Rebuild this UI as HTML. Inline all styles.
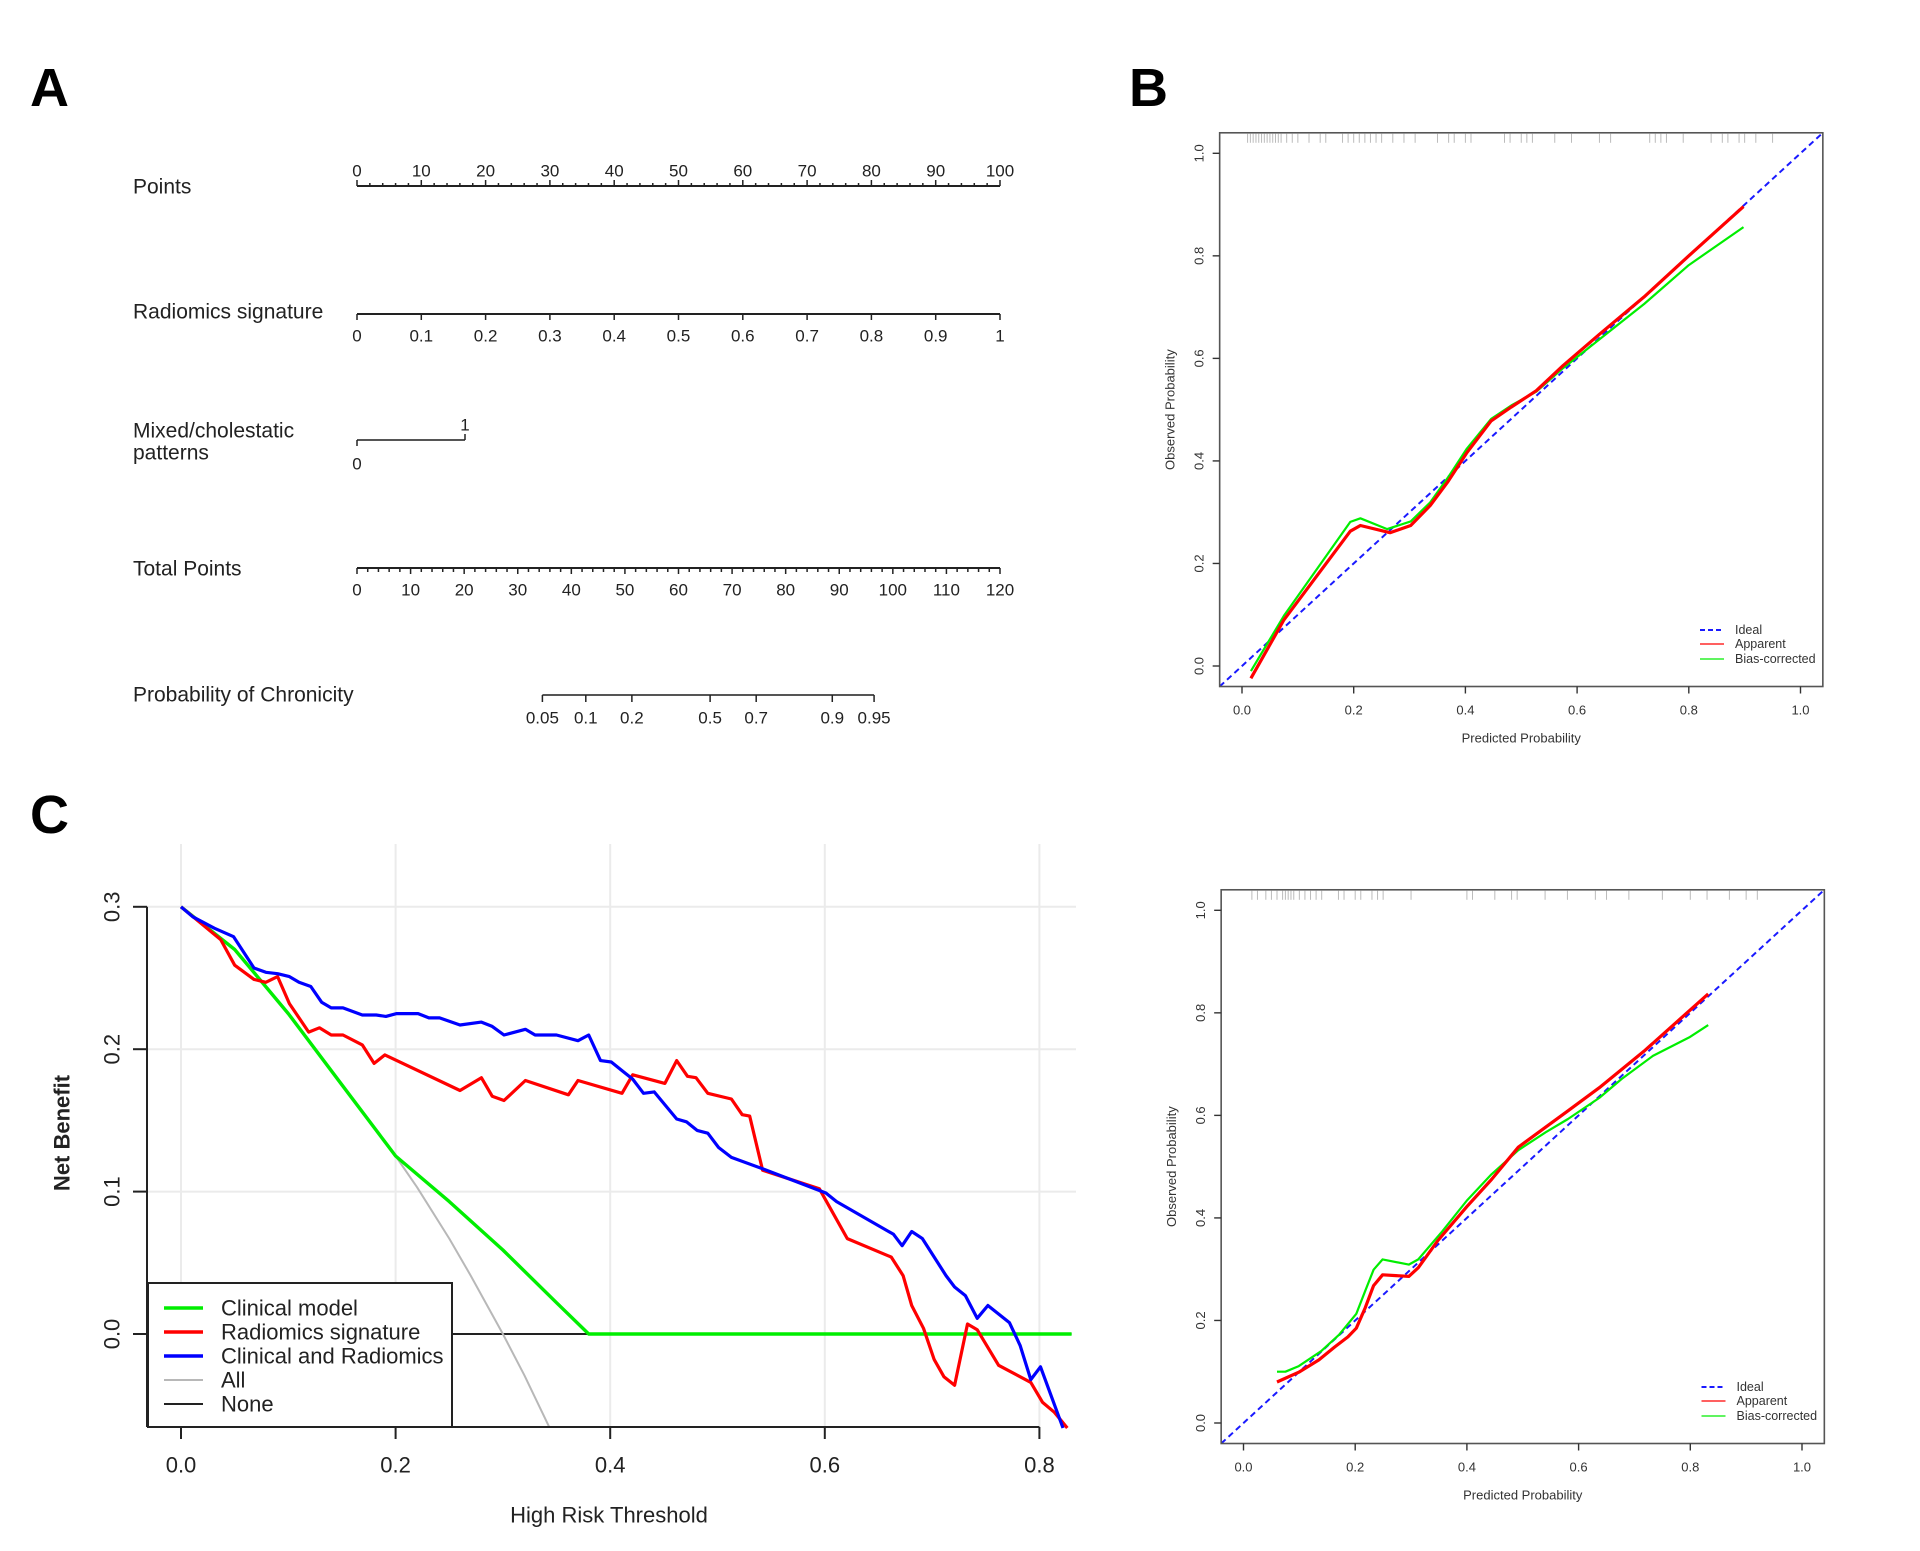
<!DOCTYPE html>
<html><head><meta charset="utf-8">
<style>
html,body{margin:0;padding:0;background:#fff;}
svg{display:block;font-family:"Liberation Sans",sans-serif;}
</style></head>
<body>
<svg id="fig" width="1920" height="1551" viewBox="0 0 1920 1551">
<rect x="0" y="0" width="1920" height="1551" fill="#fff"/>
<text x="30" y="106" font-size="54" font-weight="bold">A</text>
<text x="1129" y="106" font-size="54" font-weight="bold">B</text>
<text x="30" y="833" font-size="54" font-weight="bold">C</text>
<g id="nomo"></g>
<g id="cal1"></g>
<g id="cal2"></g>
<g id="dca"></g>
</svg>
<script>
// ---------- Nomogram data ----------
const pointsTicks = [0,10,20,30,40,50,60,70,80,90,100];
const radiomicsTicks = [0,0.1,0.2,0.3,0.4,0.5,0.6,0.7,0.8,0.9,1];
const totalTicks = [0,10,20,30,40,50,60,70,80,90,100,110,120];
const probLabels = ["0.05","0.1","0.2","0.5","0.7","0.9","0.95"];
const probTotalPoints = [34.6,42.7,51.3,65.9,74.5,88.7,96.5];

// ---------- Calibration (top) ----------
const cal1PredApparent = [0.016,0.075,0.194,0.212,0.265,0.302,0.337,0.369,0.402,0.446,0.482,0.527,0.575,0.64,0.72,0.8,0.898];
const cal1ObsApparent  = [-0.024,0.09,0.263,0.274,0.26,0.274,0.313,0.36,0.415,0.478,0.505,0.537,0.586,0.647,0.72,0.8,0.896];
const cal1PredBias = [0.016,0.075,0.194,0.212,0.26,0.302,0.337,0.369,0.402,0.446,0.482,0.527,0.575,0.64,0.72,0.8,0.898];
const cal1ObsBias  = [-0.01,0.098,0.281,0.288,0.267,0.282,0.319,0.368,0.423,0.482,0.508,0.535,0.581,0.637,0.706,0.782,0.856];
const cal1Rug = [0.01,0.015,0.02,0.025,0.03,0.035,0.04,0.045,0.05,0.055,0.06,0.065,0.07,0.08,0.09,0.1,0.12,0.14,0.15,0.18,0.19,0.2,0.21,0.22,0.23,0.24,0.25,0.27,0.29,0.31,0.35,0.37,0.38,0.4,0.41,0.47,0.48,0.5,0.51,0.52,0.56,0.59,0.64,0.66,0.73,0.74,0.75,0.76,0.79,0.84,0.86,0.87,0.89,0.9,0.92,0.95];

// ---------- Calibration (bottom) ----------
const cal2PredApparent = [0.06,0.099,0.135,0.163,0.187,0.202,0.218,0.233,0.249,0.296,0.313,0.348,0.4,0.444,0.492,0.541,0.581,0.637,0.717,0.832];
const cal2ObsApparent  = [0.08,0.099,0.123,0.148,0.168,0.185,0.225,0.268,0.289,0.286,0.303,0.356,0.422,0.475,0.538,0.577,0.609,0.654,0.725,0.837];
const cal2PredBias = [0.06,0.075,0.099,0.139,0.171,0.202,0.218,0.233,0.249,0.296,0.313,0.356,0.4,0.444,0.492,0.541,0.581,0.637,0.677,0.733,0.798,0.832];
const cal2ObsBias  = [0.1,0.1,0.111,0.14,0.172,0.213,0.258,0.299,0.319,0.309,0.319,0.374,0.434,0.485,0.532,0.567,0.593,0.634,0.671,0.716,0.752,0.776];
const cal2Rug = [0.015,0.025,0.04,0.05,0.06,0.07,0.075,0.08,0.085,0.09,0.1,0.11,0.12,0.13,0.14,0.17,0.18,0.2,0.21,0.23,0.24,0.25,0.3,0.4,0.41,0.45,0.48,0.49,0.54,0.58,0.63,0.65,0.69,0.75,0.8,0.83,0.87,0.9,0.92];

const calTicks = [0,0.2,0.4,0.6,0.8,1.0];
const calTickLabels = ["0.0","0.2","0.4","0.6","0.8","1.0"];

// ---------- Decision curve ----------
const dcaThrClinical = [0,0.05,0.1,0.15,0.2,0.25,0.3,0.35,0.38,0.83];
const dcaNBClinical  = [0.3,0.27,0.225,0.175,0.125,0.093,0.059,0.022,0,0];
const dcaThrAll = [0,0.05,0.1,0.15,0.2,0.22,0.25,0.27,0.3,0.32,0.343];
const dcaNBAll  = [0.3,0.27,0.225,0.175,0.125,0.103,0.067,0.041,0,-0.029,-0.065];
const dcaThrNone = [0,0.83];
const dcaNBNone  = [0,0];
const dcaThrRad = [0,0.037,0.05,0.068,0.079,0.09,0.101,0.119,0.129,0.14,0.151,0.169,0.18,0.19,0.26,0.28,0.29,0.301,0.321,0.361,0.37,0.411,0.421,0.451,0.462,0.472,0.48,0.491,0.513,0.523,0.53,0.542,0.595,0.621,0.662,0.673,0.681,0.692,0.702,0.711,0.721,0.733,0.742,0.762,0.792,0.803,0.814,0.826];
const dcaNBRad  = [0.3,0.277,0.259,0.249,0.247,0.251,0.232,0.212,0.215,0.21,0.21,0.203,0.19,0.196,0.171,0.18,0.167,0.164,0.178,0.168,0.178,0.169,0.182,0.176,0.192,0.181,0.18,0.169,0.165,0.154,0.153,0.115,0.102,0.067,0.054,0.041,0.02,0.004,-0.018,-0.03,-0.036,0.007,0.003,-0.022,-0.034,-0.048,-0.055,-0.066];
const dcaThrComb = [0,0.011,0.031,0.049,0.068,0.079,0.09,0.101,0.11,0.121,0.131,0.14,0.151,0.169,0.182,0.191,0.201,0.221,0.231,0.241,0.26,0.28,0.29,0.301,0.321,0.33,0.35,0.37,0.38,0.391,0.401,0.411,0.421,0.431,0.441,0.462,0.471,0.481,0.491,0.501,0.513,0.542,0.601,0.611,0.664,0.672,0.681,0.691,0.713,0.721,0.731,0.742,0.752,0.772,0.782,0.792,0.801,0.822];
const dcaNBComb  = [0.3,0.293,0.285,0.279,0.257,0.254,0.253,0.251,0.247,0.244,0.233,0.229,0.229,0.224,0.224,0.223,0.225,0.225,0.222,0.222,0.217,0.219,0.216,0.21,0.214,0.21,0.21,0.206,0.21,0.192,0.191,0.185,0.179,0.169,0.17,0.151,0.149,0.143,0.141,0.131,0.124,0.116,0.099,0.093,0.07,0.062,0.072,0.067,0.041,0.033,0.027,0.011,0.02,0.008,-0.008,-0.032,-0.023,-0.066];
const dcaXTicks = [0,0.2,0.4,0.6,0.8];
const dcaXTickLabels = ["0.0","0.2","0.4","0.6","0.8"];
const dcaYTicks = [0,0.1,0.2,0.3];
const dcaYTickLabels = ["0.0","0.1","0.2","0.3"];
const dcaLegendLabels = ["Clinical model","Radiomics signature","Clinical and Radiomics","All","None"];

const NS = "http://www.w3.org/2000/svg";
function mk(parent, tag, attrs, text){
  const e = document.createElementNS(NS, tag);
  for (const k in attrs) e.setAttribute(k, attrs[k]);
  if (text !== undefined) e.textContent = text;
  parent.appendChild(e);
  return e;
}
function fmt(v){ return String(v); }

// ================= Nomogram =================
(function(){
  const g = document.getElementById('nomo');
  const x0 = 357, x1 = 1000;
  const px = p => x0 + (x1 - x0) * p / 100;
  const labFont = 21, tickFont = 17;
  const labelX = 133;
  function rowLabel(y, lines, name){
    lines.forEach((t,i)=>{
      const el = mk(g,'text',{x:labelX,y:y+i*22,'font-size':labFont,'dominant-baseline':'central',fill:'#222'},t);
      
      
    });
  }
  rowLabel(187, ["Points"], 'points-label');
  let ax = mk(g,'line',{x1:px(0),y1:186,x2:px(100),y2:186,stroke:'#222','stroke-width':2});
  
  
  for (let v=0; v<=100; v+=2){
    const major = v%10===0;
    mk(g,'line',{x1:px(v),y1:186,x2:px(v),y2:major?180:183,stroke:'#222','stroke-width':1.5});
  }
  pointsTicks.forEach(v=>{
    const t = mk(g,'text',{x:px(v),y:171,'font-size':tickFont,'text-anchor':'middle','dominant-baseline':'central',fill:'#222'},fmt(v));
    
    
  });
  rowLabel(312, ["Radiomics signature"], 'radiomics-signature-label');
  ax = mk(g,'line',{x1:px(0),y1:314,x2:px(100),y2:314,stroke:'#222','stroke-width':2});
  
  
  radiomicsTicks.forEach(v=>{
    mk(g,'line',{x1:px(v*100),y1:314,x2:px(v*100),y2:320,stroke:'#222','stroke-width':1.5});
    const t = mk(g,'text',{x:px(v*100),y:336,'font-size':tickFont,'text-anchor':'middle','dominant-baseline':'central',fill:'#222'},fmt(v));
    
    
  });
  rowLabel(431, ["Mixed/cholestatic","patterns"], 'mixed-cholestatic-label');
  const mx1 = 465;
  ax = mk(g,'line',{x1:px(0),y1:440,x2:mx1,y2:440,stroke:'#555','stroke-width':2});
  
  
  mk(g,'line',{x1:px(0),y1:440,x2:px(0),y2:446,stroke:'#222','stroke-width':1.5});
  mk(g,'line',{x1:mx1,y1:440,x2:mx1,y2:434,stroke:'#222','stroke-width':1.5});
  let t = mk(g,'text',{x:mx1,y:425,'font-size':tickFont,'text-anchor':'middle','dominant-baseline':'central',fill:'#222'},"1");
   
  t = mk(g,'text',{x:px(0),y:464,'font-size':tickFont,'text-anchor':'middle','dominant-baseline':'central',fill:'#222'},"0");
   
  rowLabel(569, ["Total Points"], 'total-points-label');
  const tx = v => x0 + (x1-x0)*v/120;
  ax = mk(g,'line',{x1:tx(0),y1:568,x2:tx(120),y2:568,stroke:'#222','stroke-width':2});
  
  
  for (let v=0; v<=120; v+=2){
    const major = v%10===0;
    mk(g,'line',{x1:tx(v),y1:568,x2:tx(v),y2:major?574:572,stroke:'#222','stroke-width':1.5});
  }
  totalTicks.forEach(v=>{
    const t = mk(g,'text',{x:tx(v),y:590,'font-size':tickFont,'text-anchor':'middle','dominant-baseline':'central',fill:'#222'},fmt(v));
    
    
  });
  rowLabel(695, ["Probability of Chronicity"], 'probability-label');
  ax = mk(g,'line',{x1:tx(probTotalPoints[0]),y1:695,x2:tx(probTotalPoints[probTotalPoints.length-1]),y2:695,stroke:'#555','stroke-width':2});
  
  
  probTotalPoints.forEach((v,i)=>{
    mk(g,'line',{x1:tx(v),y1:695,x2:tx(v),y2:702,stroke:'#222','stroke-width':1.5});
    const t = mk(g,'text',{x:tx(v),y:718,'font-size':tickFont,'text-anchor':'middle','dominant-baseline':'central',fill:'#222'},probLabels[i]);
    
    
  });
})();

// ================= Calibration plots =================
function calPlot(gid, dx, dy, predA, obsA, predB, obsB, rug){
  const g = document.getElementById(gid);
  const X0 = 1242+dx, XS = 558.5, Y0 = 666+dy, YS = 512.7;
  const sx = v => X0 + v*XS, sy = v => Y0 - v*YS;
  const clip = gid+'-clip';
  const defs = mk(g,'defs',{});
  const cp = mk(defs,'clipPath',{id:clip});
  mk(cp,'rect',{x:sx(-0.04),y:sy(1.04),width:sx(1.04)-sx(-0.04),height:sy(-0.04)-sy(1.04)});
  rug.forEach(v=>{
    const r = mk(g,'line',{x1:sx(v),y1:sy(1.04)+1,x2:sx(v),y2:sy(1.04)+10,stroke:'#bbb','stroke-width':1});
    
    
  });
  const ideal = mk(g,'line',{x1:sx(-0.04),y1:sy(-0.04),x2:sx(1.04),y2:sy(1.04),stroke:'#1a1aff','stroke-width':2,'stroke-dasharray':'6,4','clip-path':`url(#${clip})`});
  
  
  const pts = (xs,ys)=>xs.map((x,i)=>sx(x).toFixed(1)+','+sy(ys[i]).toFixed(1)).join(' ');
  const gl = mk(g,'polyline',{points:pts(predB,obsB),fill:'none',stroke:'#00ee00','stroke-width':2.2,'stroke-linejoin':'round'});
  
  
  const rl = mk(g,'polyline',{points:pts(predA,obsA),fill:'none',stroke:'#ff0000','stroke-width':3.2,'stroke-linejoin':'round'});
  
  
  const fr = mk(g,'rect',{x:sx(-0.04),y:sy(1.04),width:sx(1.04)-sx(-0.04),height:sy(-0.04)-sy(1.04),fill:'none',stroke:'#555','stroke-width':1.6});
  
  
  calTicks.forEach((v,i)=>{
    mk(g,'line',{x1:sx(v),y1:sy(-0.04),x2:sx(v),y2:sy(-0.04)+7,stroke:'#333','stroke-width':1.4});
    const t = mk(g,'text',{x:sx(v),y:Y0+44,'font-size':13,'text-anchor':'middle','dominant-baseline':'central',fill:'#333'},calTickLabels[i]);
    
    
    mk(g,'line',{x1:sx(-0.04),y1:sy(v),x2:sx(-0.04)-7,y2:sy(v),stroke:'#333','stroke-width':1.4});
    const ty = mk(g,'text',{x:0,y:0,'font-size':13,'text-anchor':'middle','dominant-baseline':'central',fill:'#333',transform:`translate(${X0-43},${sy(v)}) rotate(-90)`},calTickLabels[i]);
    
    
  });
  let t = mk(g,'text',{x:sx(0.5),y:Y0+72,'font-size':13,'text-anchor':'middle','dominant-baseline':'central',fill:'#333'},"Predicted Probability");
   
  t = mk(g,'text',{x:0,y:0,'font-size':13,'text-anchor':'middle','dominant-baseline':'central',fill:'#333',transform:`translate(${X0-72},${sy(0.5)}) rotate(-90)`},"Observed Probability");
   
  const ly = [Y0-36, Y0-22, Y0-7];
  const names = ["Ideal","Apparent","Bias-corrected"];
  const cols = ['#1a1aff','#ff0000','#00ee00'];
  names.forEach((n,i)=>{
    const ln = mk(g,'line',{x1:X0+458,y1:ly[i],x2:X0+482,y2:ly[i],stroke:cols[i],'stroke-width':i===0?2:1.3,'stroke-dasharray':i===0?'5,3':'none'});
    
    
    const tt = mk(g,'text',{x:X0+493,y:ly[i],'font-size':12.5,'dominant-baseline':'central',fill:'#333'},n);
    
    
  });
}
calPlot('cal1',0,0,cal1PredApparent,cal1ObsApparent,cal1PredBias,cal1ObsBias,cal1Rug);
calPlot('cal2',1.5,757,cal2PredApparent,cal2ObsApparent,cal2PredBias,cal2ObsBias,cal2Rug);

// ================= Decision curve =================
(function(){
  const g = document.getElementById('dca');
  const X0 = 181, XS = 1073, Y0 = 1334, YS = 1424;
  const sx = v => X0 + v*XS, sy = v => Y0 - v*YS;
  const yBot = 1427, xRight = 1076, gridTop = 844;
  dcaXTicks.forEach(v=>{
    const l = mk(g,'line',{x1:sx(v),y1:gridTop,x2:sx(v),y2:yBot,stroke:'#ebebeb','stroke-width':2});
    
    
  });
  dcaYTicks.forEach(v=>{
    if (v===0) return;
    const l = mk(g,'line',{x1:147,y1:sy(v),x2:xRight,y2:sy(v),stroke:'#ebebeb','stroke-width':2});
    
    
  });
  const defs = mk(g,'defs',{});
  const cp = mk(defs,'clipPath',{id:'dcaclip'});
  mk(cp,'rect',{x:147,y:gridTop-20,width:xRight-147+2,height:yBot-gridTop+30});
  const pts = (xs,ys)=>xs.map((x,i)=>sx(x).toFixed(1)+','+sy(ys[i]).toFixed(1)).join(' ');
  function series(xs,ys,col,w,name){
    const p = mk(g,'polyline',{points:pts(xs,ys),fill:'none',stroke:col,'stroke-width':w,'stroke-linejoin':'round','clip-path':'url(#dcaclip)'});
    
    
  }
  series(dcaThrNone,dcaNBNone,'#222',2,'none-line');
  series(dcaThrAll,dcaNBAll,'#b8b8b8',2,'all-line');
  series(dcaThrClinical,dcaNBClinical,'#00ee00',3.4,'clinical-model-line');
  series(dcaThrRad,dcaNBRad,'#ff0000',3.2,'radiomics-signature-line');
  series(dcaThrComb,dcaNBComb,'#0000ff',3.2,'clinical-and-radiomics-line');
  let a = mk(g,'line',{x1:147,y1:sy(0.3),x2:147,y2:yBot,stroke:'#222','stroke-width':2});
   
  a = mk(g,'line',{x1:147,y1:yBot,x2:sx(0.8),y2:yBot,stroke:'#222','stroke-width':2});
   
  dcaXTicks.forEach((v,i)=>{
    mk(g,'line',{x1:sx(v),y1:yBot,x2:sx(v),y2:yBot+12,stroke:'#222','stroke-width':2});
    const t = mk(g,'text',{x:sx(v),y:1465,'font-size':22,'text-anchor':'middle','dominant-baseline':'central',fill:'#222'},dcaXTickLabels[i]);
    
    
  });
  dcaYTicks.forEach((v,i)=>{
    mk(g,'line',{x1:147,y1:sy(v),x2:133,y2:sy(v),stroke:'#222','stroke-width':2});
    const t = mk(g,'text',{x:0,y:0,'font-size':22,'text-anchor':'middle','dominant-baseline':'central',fill:'#222',transform:`translate(112,${sy(v)}) rotate(-90)`},dcaYTickLabels[i]);
    
    
  });
  let t = mk(g,'text',{x:609,y:1515,'font-size':22,'text-anchor':'middle','dominant-baseline':'central',fill:'#222'},"High Risk Threshold");
   
  t = mk(g,'text',{x:0,y:0,'font-size':22,'font-weight':'bold','text-anchor':'middle','dominant-baseline':'central',fill:'#222',transform:`translate(62,1133) rotate(-90)`},"Net Benefit");
   
  const lg = mk(g,'rect',{x:148,y:1283,width:304,height:144,fill:'#fff',stroke:'#222','stroke-width':2});
  
  
  const cols = ['#00ee00','#ff0000','#0000ff','#b8b8b8','#222'];
  const widths = [3.5,3.5,3.5,2,2];
  dcaLegendLabels.forEach((n,i)=>{
    const y = 1308 + i*24;
    const ln = mk(g,'line',{x1:164,y1:y,x2:203,y2:y,stroke:cols[i],'stroke-width':widths[i]});
    
    
    const tt = mk(g,'text',{x:221,y:y,'font-size':22,'dominant-baseline':'central',fill:'#222'},n);
    
    
  });
})();
</script>
</body></html>
